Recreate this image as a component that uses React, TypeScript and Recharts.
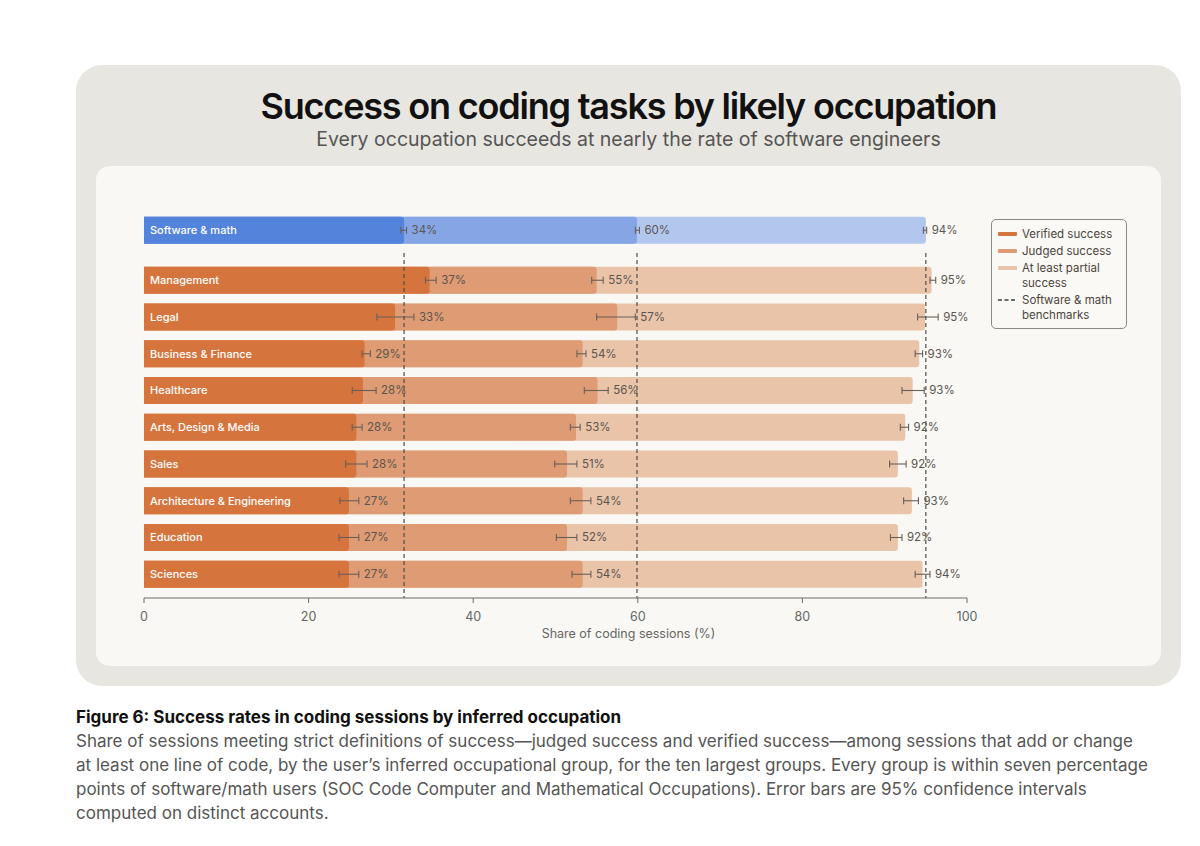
import React from 'react';
import {
  BarChart,
  Bar,
  XAxis,
  YAxis,
  Cell,
  ErrorBar,
  LabelList,
  ReferenceLine,
} from 'recharts';

// values (% of coding sessions)
const occupations = [
  'Software & math',
  'Management',
  'Legal',
  'Business & Finance',
  'Healthcare',
  'Arts, Design & Media',
  'Sales',
  'Architecture & Engineering',
  'Education',
  'Sciences',
];

const verified = [31.6, 34.7, 30.5, 26.8, 26.6, 25.8, 25.8, 24.9, 24.9, 24.9];
const verifiedLow = [31.2, 34.2, 28.3, 26.5, 25.3, 25.3, 24.5, 23.8, 23.7, 23.7];
const verifiedHigh = [31.9, 35.5, 32.8, 27.5, 28.2, 26.5, 27.1, 26.1, 26.1, 26.1];
const verifiedLabels = ['34%', '37%', '33%', '29%', '28%', '28%', '28%', '27%', '27%', '27%'];

const judged = [59.9, 55.0, 57.5, 53.3, 55.1, 52.5, 51.4, 53.3, 51.4, 53.3];
const judgedLow = [59.7, 54.4, 55.0, 52.6, 53.5, 51.8, 49.9, 51.8, 50.1, 52.0];
const judgedHigh = [60.2, 55.8, 59.7, 53.7, 56.4, 53.0, 52.6, 54.3, 52.6, 54.3];
const judgedLabels = ['60%', '55%', '57%', '54%', '56%', '53%', '51%', '54%', '52%', '54%'];

const partial = [95.0, 95.7, 94.9, 94.2, 93.4, 92.5, 91.6, 93.3, 91.6, 94.6];
const partialLow = [94.7, 95.5, 94.0, 93.7, 92.1, 91.9, 90.6, 92.3, 90.7, 93.7];
const partialHigh = [95.1, 96.2, 96.5, 94.6, 94.8, 92.9, 92.6, 94.1, 92.1, 95.5];
const partialLabels = ['94%', '95%', '95%', '93%', '93%', '92%', '92%', '93%', '92%', '94%'];

const xTicks = [0, 20, 40, 60, 80, 100];

const FONT = 'Inter, "Noto Sans", sans-serif';
const BLUE = ['#5383DB', '#85A5E5', '#B2C7EE'];
const ORANGE = ['#D6743D', '#DF9B73', '#EAC4A9'];

// software row sits a bit apart from the rest
const GAP = 0.36;

const rows = occupations.map((name, i) => ({
  name,
  pos: i === 0 ? 0 : i + GAP,
  verified: verified[i],
  verErr: [verified[i] - verifiedLow[i], verifiedHigh[i] - verified[i]],
  verHi: verifiedHigh[i],
  verLabel: verifiedLabels[i],
  judged: judged[i],
  judErr: [judged[i] - judgedLow[i], judgedHigh[i] - judged[i]],
  judHi: judgedHigh[i],
  judLabel: judgedLabels[i],
  partial: partial[i],
  parErr: [partial[i] - partialLow[i], partialHigh[i] - partial[i]],
  parHi: partialHigh[i],
  parLabel: partialLabels[i],
}));

const makeValueLabel = (valKey: string, hiKey: string) => (props: any) => {
  const { x, y, width, height, value, index } = props;
  const row: any = rows[index];
  if (!row) return null;
  const hiPx = x + width * (row[hiKey] / row[valKey]);
  return (
    <text
      x={hiPx + 5}
      y={y + height / 2}
      dominantBaseline="central"
      fontFamily={FONT}
      fontSize={11.5}
      fill="#5b5550"
    >
      {value}
    </text>
  );
};

const renderName = (props: any) => {
  const { x, y, height, value } = props;
  return (
    <text
      x={x + 6}
      y={y + height / 2}
      dominantBaseline="central"
      fontFamily={FONT}
      fontSize={11}
      fontWeight={500}
      fill="#ffffff"
    >
      {value}
    </text>
  );
};

const errProps = { direction: 'x' as const, width: 3.5, stroke: '#6a5f58', strokeWidth: 1.1 };

function LegendBox() {
  const item = (color: string, label: React.ReactNode, dashed = false) => (
    <div style={{ display: 'flex', alignItems: 'flex-start', marginBottom: 2 }}>
      <svg width={19} height={15} style={{ marginRight: 5, flexShrink: 0 }}>
        {dashed ? (
          <line x1={0} y1={7} x2={19} y2={7} stroke="#3f3f3f" strokeWidth={1.6} strokeDasharray="4 2.5" />
        ) : (
          <rect x={0} y={5} width={19} height={4} rx={1} fill={color} />
        )}
      </svg>
      <div style={{ lineHeight: '15px' }}>{label}</div>
    </div>
  );
  return (
    <div
      style={{
        position: 'absolute',
        left: 991,
        top: 219,
        width: 136,
        height: 110,
        boxSizing: 'border-box',
        border: '1px solid #8d8985',
        borderRadius: 5,
        padding: '7px 6px',
        fontFamily: FONT,
        fontSize: 11.5,
        color: '#4a4540',
        background: '#faf9f5',
      }}
    >
      {item(ORANGE[0], 'Verified success')}
      {item(ORANGE[1], 'Judged success')}
      {item(ORANGE[2], (<span>At least partial<br />success</span>))}
      {item('#444', (<span>Software &amp; math<br />benchmarks</span>), true)}
    </div>
  );
}

export default function App() {
  const yMin = -0.63;
  const yMax = 10.01;
  const benchStart = 0.62;

  return (
    <div style={{ position: 'absolute', left: 0, top: 0, width: 1200, height: 846, background: '#ffffff', fontFamily: FONT }}>
      {/* outer card */}
      <div
        style={{
          position: 'absolute',
          left: 76,
          top: 65,
          width: 1105,
          height: 621,
          background: '#E8E6E0',
          borderRadius: 26,
        }}
      />
      <div
        style={{
          position: 'absolute',
          left: 76,
          width: 1105,
          top: 83,
          textAlign: 'center',
          fontSize: 36,
          fontWeight: 600,
          letterSpacing: -1.2,
          color: '#111',
          lineHeight: '46px',
        }}
      >
        Success on coding tasks by likely occupation
      </div>
      <div
        style={{
          position: 'absolute',
          left: 76,
          width: 1105,
          top: 127,
          textAlign: 'center',
          fontSize: 19.5,
          color: '#555',
          lineHeight: '24px',
        }}
      >
        Every occupation succeeds at nearly the rate of software engineers
      </div>

      {/* inner panel */}
      <div
        style={{
          position: 'absolute',
          left: 96,
          top: 166,
          width: 1065,
          height: 500,
          background: '#F9F8F4',
          borderRadius: 14,
        }}
      >
        <BarChart
          width={1065}
          height={500}
          data={rows}
          layout="vertical"
          margin={{ top: 41, right: 194, left: 48, bottom: 28 }}
          barSize={27}
          barGap={-27}
        >
          <XAxis
            type="number"
            dataKey="verified"
            domain={[0, 100]}
            ticks={xTicks}
            axisLine={{ stroke: '#6b6b6b' }}
            tickLine={{ stroke: '#6b6b6b' }}
            tickSize={5}
            tickMargin={9}
            tick={{ fill: '#666', fontSize: 12.5, fontFamily: FONT }}
            height={40}
            label={{
              value: 'Share of coding sessions (%)',
              position: 'insideBottom',
              offset: 0,
              dx: 73,
              fill: '#666',
              fontSize: 12.5,
              fontFamily: FONT,
            }}
          />
          <YAxis
            type="number"
            dataKey="pos"
            domain={[yMin, yMax]}
            width={0}
            tick={false}
            tickLine={false}
            axisLine={{ stroke: '#6b6b6b' }}
          />

          <Bar dataKey="partial" isAnimationActive={false} radius={[0, 3, 3, 0]}>
            {rows.map((r, i) => (
              <Cell key={`p-${i}`} fill={i === 0 ? BLUE[2] : ORANGE[2]} />
            ))}
            <ErrorBar dataKey="parErr" {...errProps} />
            <LabelList dataKey="parLabel" content={makeValueLabel('partial', 'parHi')} />
          </Bar>
          <Bar dataKey="judged" isAnimationActive={false} radius={[0, 3, 3, 0]}>
            {rows.map((r, i) => (
              <Cell key={`j-${i}`} fill={i === 0 ? BLUE[1] : ORANGE[1]} />
            ))}
            <ErrorBar dataKey="judErr" {...errProps} />
            <LabelList dataKey="judLabel" content={makeValueLabel('judged', 'judHi')} />
          </Bar>
          <Bar dataKey="verified" isAnimationActive={false} radius={[0, 3, 3, 0]}>
            {rows.map((r, i) => (
              <Cell key={`v-${i}`} fill={i === 0 ? BLUE[0] : ORANGE[0]} />
            ))}
            <ErrorBar dataKey="verErr" {...errProps} />
            <LabelList dataKey="verLabel" content={makeValueLabel('verified', 'verHi')} />
            <LabelList dataKey="name" content={renderName} />
          </Bar>

          {[verified[0], judged[0], partial[0]].map((v, i) => (
            <ReferenceLine
              key={`bench-${i}`}
              segment={[
                { x: v, y: benchStart },
                { x: v, y: yMax },
              ]}
              stroke="#4d4d4d"
              strokeWidth={1.2}
              strokeDasharray="4 3"
            />
          ))}
        </BarChart>
      </div>

      <LegendBox />

      {/* caption */}
      <div
        style={{
          position: 'absolute',
          left: 76,
          top: 705,
          width: 1110,
          fontSize: 17,
          lineHeight: '24px',
          color: '#555',
        }}
      >
        <div style={{ fontWeight: 700, color: '#111', whiteSpace: 'nowrap' }}>
          Figure 6: Success rates in coding sessions by inferred occupation
        </div>
        <div style={{ whiteSpace: 'nowrap' }}>
          Share of sessions meeting strict definitions of success—judged success and verified success—among sessions that add or change
        </div>
        <div style={{ whiteSpace: 'nowrap' }}>
          at least one line of code, by the user’s inferred occupational group, for the ten largest groups. Every group is within seven percentage
        </div>
        <div style={{ whiteSpace: 'nowrap' }}>
          points of software/math users (SOC Code Computer and Mathematical Occupations). Error bars are 95% confidence intervals
        </div>
        <div style={{ whiteSpace: 'nowrap' }}>computed on distinct accounts.</div>
      </div>
    </div>
  );
}
